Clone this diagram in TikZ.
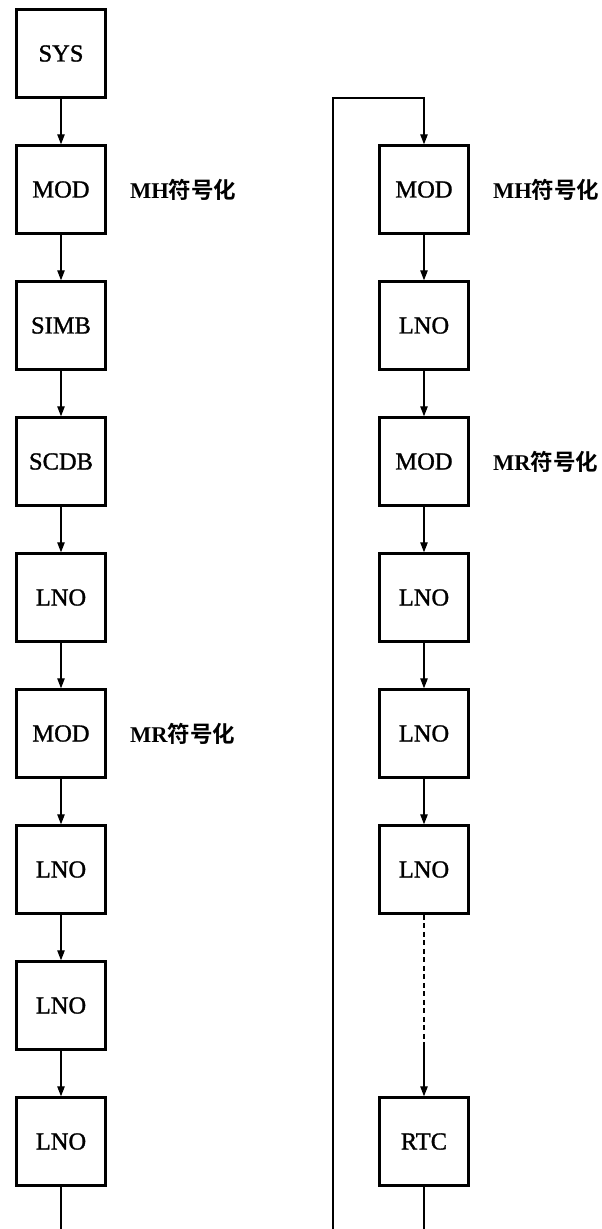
\documentclass[tikz,border=0pt]{standalone}
\usepackage{fontspec}
\setmainfont{Liberation Serif}
\newfontfamily\boxfont{Liberation Serif}[FakeBold=1.2]
\newfontfamily\cjk{Noto Sans CJK SC}[BoldFont={Noto Sans CJK SC Bold}]
\usetikzlibrary{arrows.meta}
\begin{document}
\begin{tikzpicture}[x=1pt,y=-1pt,
  box/.style={draw,line width=3pt,minimum width=88.5pt,minimum height=87.5pt,inner sep=0pt,font=\boxfont\fontsize{24.5}{26}\selectfont},
  conn/.style={line width=1.3pt},
  arr/.style={conn,-{Triangle[length=10pt,width=7.5pt]}},
  lbl/.style={anchor=west,inner sep=0pt,font=\fontsize{22.5}{24}\selectfont\bfseries}]
\useasboundingbox (0,0) rectangle (602,1229);
% left column
\node[box] (L0) at (61,53.5) {SYS};
\node[box] (L1) at (61,189.5) {MOD};
\node[box] (L2) at (61,325.5) {SIMB};
\node[box] (L3) at (61,461.5) {SCDB};
\node[box] (L4) at (61,597.5) {LNO};
\node[box] (L5) at (61,733.5) {MOD};
\node[box] (L6) at (61,869.5) {LNO};
\node[box] (L7) at (61,1005.5) {LNO};
\node[box] (L8) at (61,1141.5) {LNO};
% right column
\node[box] (R1) at (424,189.5) {MOD};
\node[box] (R2) at (424,325.5) {LNO};
\node[box] (R3) at (424,461.5) {MOD};
\node[box] (R4) at (424,597.5) {LNO};
\node[box] (R5) at (424,733.5) {LNO};
\node[box] (R6) at (424,869.5) {LNO};
\node[box] (R8) at (424,1141.5) {RTC};
% labels
\node[lbl] (tL1) at (130,189.5) {MH{\cjk 符号化}};
\node[lbl] (tL5) at (130,733.5) {MR{\cjk 符号化}};
\node[lbl] (tR1) at (493,189.5) {MH{\cjk 符号化}};
\node[lbl] (tR3) at (493,461.5) {MR{\cjk 符号化}};
% connectors
\foreach \a/\b in {L0/L1,L1/L2,L2/L3,L3/L4,L4/L5,L5/L6,L6/L7,L7/L8,R1/R2,R2/R3,R3/R4,R4/R5,R5/R6}
  \draw[arr] (\a.south) -- (\b.north);
\coordinate (lend) at (61,1229);
\coordinate (rend) at (424,1229);
\coordinate (dend) at (424,1044);
\draw[conn] (L8.south) -- (lend);
\draw[conn] (R8.south) -- (rend);
\draw[conn,dash pattern=on 5pt off 3.5pt] (R6.south) -- (dend);
\draw[arr] (dend) -- (R8.north);
% loop
\coordinate (lp0) at (333,1229);
\coordinate (lp1) at (333,98);
\coordinate (lp2) at (424,98);
\draw[arr] (lp0) -- (lp1) -- (lp2) -- (R1.north);
\end{tikzpicture}
\end{document}
